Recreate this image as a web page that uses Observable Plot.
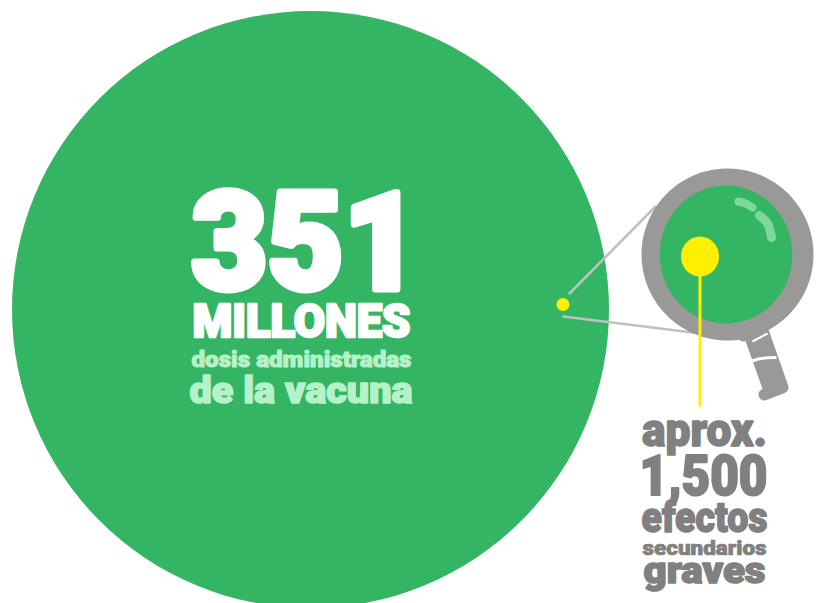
<!DOCTYPE html>
<html><head><meta charset="utf-8">
<style>html,body{margin:0;padding:0;background:#fff;overflow:hidden}svg{display:block}</style>
<script src="https://cdn.jsdelivr.net/npm/d3@7"></script>
<script src="https://cdn.jsdelivr.net/npm/@observablehq/plot@0.6"></script>
</head><body><div id="chart"></div>
<script>
// Values and labels read from the infographic
const dosesMillions = 351;
const seriousEffects = 1500;
const bigLabels = ["351", "MILLONES", "dosis administradas", "de la vacuna"];
const smallLabels = ["aprox.", "1,500", "efectos", "secundarios", "graves"];

const GREEN = "#34b563", MINT = "#b5f2c9", YELLOW = "#fff000", RING = "#999a98",
      LINK = "#c0c0c0", GREY = "#808080", SHINE = "#7ed89b";
const FONT = "Roboto, 'Open Sans', sans-serif";

const K = 0.5523;
const ellipse = (rx, ry) => ({draw(c) {
  const kx = K * rx, ky = K * ry;
  c.moveTo(rx, 0);
  c.bezierCurveTo(rx, ky, kx, ry, 0, ry);
  c.bezierCurveTo(-kx, ry, -rx, ky, -rx, 0);
  c.bezierCurveTo(-rx, -ky, -kx, -ry, 0, -ry);
  c.bezierCurveTo(kx, -ry, rx, -ky, rx, 0);
  c.closePath();
}});

const disc = (x, y, r, fill) => Plot.dot([{x, y}], {x: "x", y: "y", r, fill, stroke: "none"});
const oval = (x, y, rx, ry, fill) => Plot.dot([{x, y}], {x: "x", y: "y", r: 10, fill, stroke: "none", symbol: ellipse(rx, ry)});
const seg = (pts, stroke, strokeWidth, o = {}) => Plot.line(pts.map(([x, y]) => ({x, y})), {x: "x", y: "y", stroke, strokeWidth, strokeLinecap: "round", ...o});
const label = (text, cx, base, size, width, fill, bold) => Plot.text([{text, cx, base}], {
  x: "cx", y: "base", text: "text", fontSize: size, fontFamily: FONT, fontWeight: 900, fill,
  stroke: fill, strokeWidth: bold, strokeLinejoin: "round", textAnchor: "middle", lineAnchor: "bottom",
  render(i, s, v, d, c, next) {
    const g = next(i, s, v, d, c);
    g.querySelectorAll("text").forEach(t => { t.setAttribute("textLength", width); t.setAttribute("lengthAdjust", "spacingAndGlyphs"); });
    return g;
  }
});

const plot = Plot.plot({
  width: 817, height: 603, margin: 0,
  x: {domain: [0, 817], range: [0, 817], axis: null},
  y: {domain: [0, 603], range: [0, 603], axis: null},
  style: {background: "#fff"},
  marks: [
    disc(310, 309, 298.5, GREEN),
    disc(562.5, 304, 6.5, YELLOW),
    seg([[569, 293], [655, 206]], LINK, 2.5),
    seg([[563, 316], [700, 333]], LINK, 2.5),
    Plot.line([[743, 335], [762, 330], [782, 387], [764, 394]].map(([x, y]) => ({x, y})),
      {x: "x", y: "y", fill: RING, stroke: RING, strokeWidth: 12, strokeLinejoin: "round", z: null}),
    oval(727, 254, 86, 86, RING),
    seg([[746, 362], [761, 358], [776, 357]], "#fff", 3, {curve: "catmull-rom", strokeLinecap: "butt"}),
    seg([[752, 341], [767, 333]], "#fff", 2, {strokeLinecap: "butt"}),
    oval(725.5, 254, 66.3, 69, GREEN),
    seg([[738, 201], [745, 203], [752, 207]], SHINE, 8, {curve: "catmull-rom"}),
    seg([[759, 215], [767, 223], [771, 237]], SHINE, 9, {curve: "catmull-rom"}),
    seg([[699.5, 270], [699.5, 406]], YELLOW, 3, {strokeLinecap: "butt"}),
    oval(699.5, 256, 19, 20, YELLOW),
    label(bigLabels[0], 305, 288, 136, 228, "#fff", 7),
    label(bigLabels[1], 301, 336, 46, 218, "#fff", 2.5),
    label(bigLabels[2], 301, 366, 22, 220, MINT, 1),
    label(bigLabels[3], 300.5, 402, 37, 223, MINT, 1.5),
    label(smallLabels[0], 704, 445, 46, 125, GREY, 1.5),
    label(smallLabels[1], 703, 494, 56, 128, GREY, 2),
    label(smallLabels[2], 704, 531, 42, 126, GREY, 1.5),
    label(smallLabels[3], 704, 554, 20, 124, GREY, 0.7),
    label(smallLabels[4], 704, 582, 37, 122, GREY, 1.5)
  ]
});
document.getElementById("chart").append(plot);
</script></body></html>
